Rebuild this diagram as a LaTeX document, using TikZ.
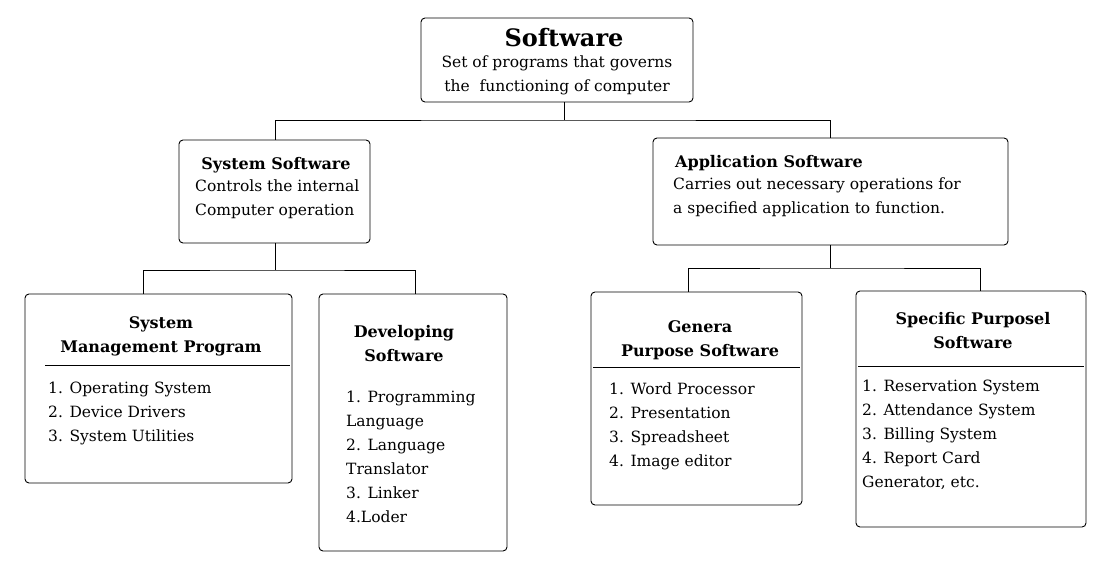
\documentclass[tikz,border=0pt]{standalone}
\usepackage{fontspec}
\setmainfont{DejaVu Serif}
\begin{document}
\begin{tikzpicture}[x=1pt,y=-1pt,
  box/.style={draw,rounded corners=4pt,line width=0.9pt,minimum width=#1,inner sep=0pt},
  txt/.style={font=\fontsize{15.5}{24}\selectfont,inner sep=0pt,align=left},
  hd/.style={font=\fontsize{16}{24}\selectfont\bfseries,inner sep=0pt,align=center},
  ln/.style={line width=0.9pt}]
\useasboundingbox (0,0) rectangle (1114,585);
% boxes
\node[box=272pt,minimum height=84pt] (sw) at (557,60) {};
\node[box=191pt,minimum height=103pt] (sys) at (274.5,191.5) {};
\node[box=355pt,minimum height=107pt] (app) at (830.5,191.5) {};
\node[box=267pt,minimum height=189pt] (smp) at (158.5,388.5) {};
\node[box=188pt,minimum height=257pt] (dev) at (413,422.5) {};
\node[box=211pt,minimum height=213pt] (gen) at (696.5,398.5) {};
\node[box=230pt,minimum height=236pt] (spe) at (971,409) {};
% texts
\node[font=\fontsize{24}{28}\selectfont\bfseries,inner sep=0pt] (t1) at (564,38) {Software};
\node[txt,align=center] (t2) at (557,75) {Set of programs that governs\\the\ \ functioning of computer};
\node[hd] (s1) at (276,165) {System Software};
\node[txt,anchor=north west] (s2) at (195,180) {Controls the internal\\Computer operation};
\node[hd,anchor=west] (a1) at (675,163) {Application Software};
\node[txt,anchor=north west] (a2) at (673,178) {Carries out necessary operations for\\a specified application to function.};
\node[hd] (m1) at (161,336) {System\\Management Program};
\node[txt,anchor=north west] (m2) at (48,382) {1. Operating System\\2. Device Drivers\\3. System Utilities};
\node[hd] (d1) at (404,344) {Developing\\Software};
\node[txt,anchor=north west] (d2) at (346,391) {1. Programming\\Language\\2. Language\\Translator\\3. Linker\\4.Loder};
\node[hd] (g1) at (700,340) {Genera\\Purpose Software};
\node[txt,anchor=north west] (g2) at (609,383) {1. Word Processor\\2. Presentation\\3. Spreadsheet\\4. Image editor};
\node[hd] (p1) at (973,331) {Specific Purposel\\Software};
\node[txt,anchor=north west] (p2) at (862,380) {1. Reservation System\\2. Attendance System\\3. Billing System\\4. Report Card\\Generator, etc.};
% separators
\draw[ln] (45,365) -- (290,365);
\draw[ln] (593,367) -- (800,367);
\draw[ln] (858,366) -- (1084,366);
% connectors
\coordinate (j1) at (564,120);
\draw[ln] (sw.south -| j1) -- (j1);
\draw[ln] (sys.north -| 275,0) |- (j1) -| (app.north -| 830,0);
\coordinate (j2) at (275,270);
\draw[ln] (sys.south -| j2) -- (j2);
\draw[ln] (smp.north -| 143,0) |- (j2) -| (dev.north -| 415,0);
\coordinate (j3) at (830,268);
\draw[ln] (app.south -| j3) -- (j3);
\draw[ln] (gen.north -| 688,0) |- (j3) -| (spe.north -| 980,0);
\end{tikzpicture}
\end{document}
